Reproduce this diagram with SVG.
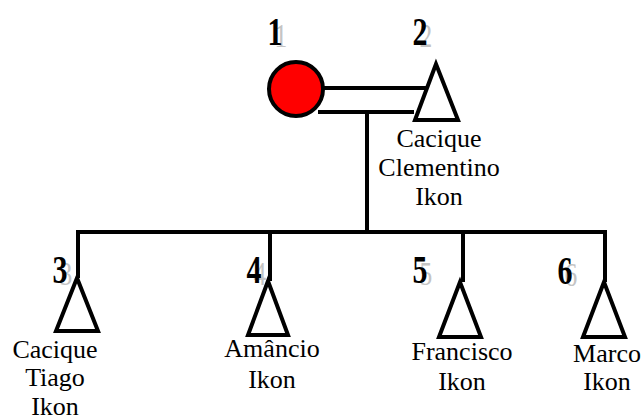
<svg xmlns="http://www.w3.org/2000/svg" width="641" height="417" viewBox="0 0 641 417">
<style>
.ln{stroke:#000;stroke-width:4;fill:none}
.tri{stroke:#000;stroke-width:4;fill:#fff;stroke-linejoin:miter}
.lbl{font-family:"Liberation Serif","Times New Roman",serif;font-size:26px;fill:#000;text-anchor:middle}
.num{font-family:"Liberation Serif","Times New Roman",serif;font-size:40px;font-weight:bold;fill:#000;text-anchor:middle}
.gh{font-family:"Liberation Serif","Times New Roman",serif;font-size:34px;fill:#c4c4c4;text-anchor:middle}
</style>
<rect width="641" height="417" fill="#fff"/>
<g id="connectors">
<line class="ln" x1="322" y1="88" x2="428" y2="88"/>
<line class="ln" x1="318" y1="112" x2="414" y2="112"/>
<line class="ln" x1="367" y1="112" x2="367" y2="232"/>
<line class="ln" x1="76" y1="232" x2="607" y2="232"/>
<line class="ln" x1="78" y1="230" x2="78" y2="278"/>
<line class="ln" x1="270" y1="230" x2="270" y2="281"/>
<line class="ln" x1="463" y1="230" x2="463" y2="282"/>
<line class="ln" x1="605" y1="230" x2="605" y2="282"/>
</g>
<g id="node1">
<circle cx="296" cy="89" r="27" fill="#ff0000" stroke="#000" stroke-width="4"/>
<text class="gh" transform="translate(281,47) scale(0.75,1)">1</text>
<text class="num" transform="translate(275,45) scale(0.75,1)">1</text>
</g>
<g id="node2">
<polygon class="tri" points="436,64 415,120 458,120"/>
<text class="gh" transform="translate(426,47) scale(0.75,1)">2</text>
<text class="num" transform="translate(420,45) scale(0.75,1)">2</text>
<text class="lbl" x="439" y="147">Cacique</text>
<text class="lbl" x="439" y="176">Clementino</text>
<text class="lbl" x="439" y="205">Ikon</text>
</g>
<g id="node3">
<polygon class="tri" points="77,278 56,331 98,331"/>
<text class="gh" transform="translate(66,285) scale(0.75,1)">3</text>
<text class="num" transform="translate(60,283) scale(0.75,1)">3</text>
<text class="lbl" x="55" y="358">Cacique</text>
<text class="lbl" x="55" y="386">Tiago</text>
<text class="lbl" x="55" y="415">Ikon</text>
</g>
<g id="node4">
<polygon class="tri" points="268,281 248,335 288,335"/>
<text class="gh" transform="translate(260,285) scale(0.75,1)">4</text>
<text class="num" transform="translate(254,283) scale(0.75,1)">4</text>
<text class="lbl" x="272" y="357">Amâncio</text>
<text class="lbl" x="272" y="388">Ikon</text>
</g>
<g id="node5">
<polygon class="tri" points="460,282 439,337 481,337"/>
<text class="gh" transform="translate(426,285) scale(0.75,1)">5</text>
<text class="num" transform="translate(420,283) scale(0.75,1)">5</text>
<text class="lbl" x="462" y="360">Francisco</text>
<text class="lbl" x="462" y="390">Ikon</text>
</g>
<g id="node6">
<polygon class="tri" points="604,282 583,337 625,337"/>
<text class="gh" transform="translate(571,286) scale(0.75,1)">6</text>
<text class="num" transform="translate(565,284) scale(0.75,1)">6</text>
<text class="lbl" x="607" y="362">Marco</text>
<text class="lbl" x="607" y="390">Ikon</text>
</g>
</svg>
